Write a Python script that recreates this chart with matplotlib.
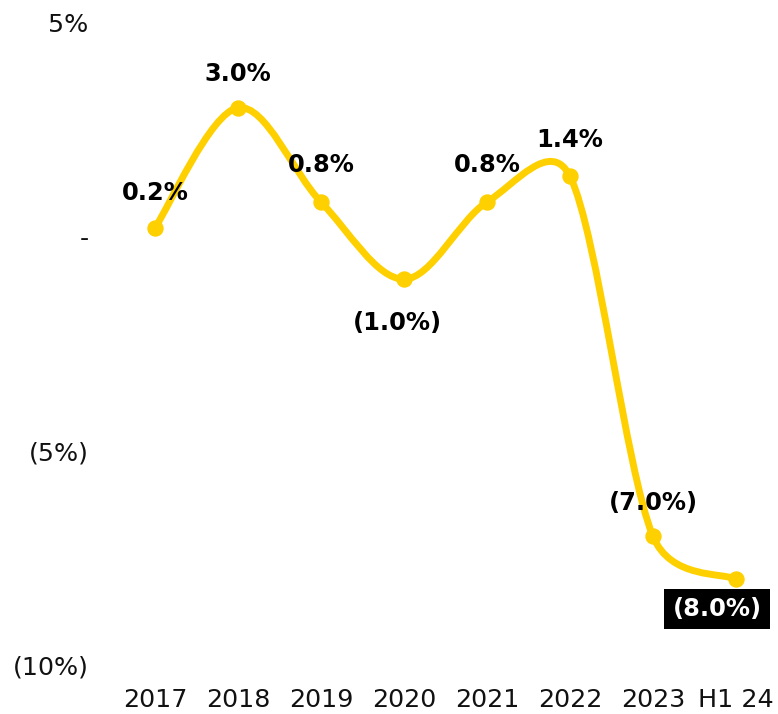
import matplotlib

matplotlib.use("Agg")
import matplotlib.pyplot as plt
import numpy as np
from matplotlib.patches import PathPatch
from matplotlib.path import Path

categories = ["2017", "2018", "2019", "2020", "2021", "2022", "2023", "H1 24"]
values = [0.2, 3.0, 0.8, -1.0, 0.8, 1.4, -7.0, -8.0]
labels = ["0.2%", "3.0%", "0.8%", "(1.0%)", "0.8%", "1.4%", "(7.0%)", "(8.0%)"]
y_ticks = [5, 0, -5, -10]
y_tick_labels = ["5%", "-", "(5%)", "(10%)"]

YELLOW = "#FFD000"
PX = 72 / 100  # points per pixel at dpi 100


def smooth_path(xs, ys, sx, sy):
    # Excel-style smoothed line: Bezier handles = chord/6, clamped to half
    # the segment length (done in pixel space, then mapped back to data)
    pts = np.column_stack([np.asarray(xs) * sx, np.asarray(ys) * sy]).astype(float)
    padded = np.vstack([pts[:1], pts, pts[-1:]])
    verts = [pts[0]]
    codes = [Path.MOVETO]
    for i in range(len(pts) - 1):
        p0, p1, p2, p3 = padded[i], padded[i + 1], padded[i + 2], padded[i + 3]
        seg = np.hypot(*(p2 - p1))
        h1 = (p2 - p0) / 6.0
        h2 = (p3 - p1) / 6.0
        for h in (h1, h2):
            n = np.hypot(*h)
            if n > seg / 2:
                h *= (seg / 2) / n
        verts += [p1 + h1, p2 - h2, p2]
        codes += [Path.CURVE4] * 3
    verts = np.array(verts) / [sx, sy]
    return Path(verts, codes)


fig = plt.figure(figsize=(7.78, 7.14), dpi=100)
ax_w, ax_h = 664, 643
ax = fig.add_axes([113.5 / 778, 49 / 714, ax_w / 778, ax_h / 714])
xlim = (-0.5, len(categories) - 0.5)
ylim = (-10, 5)

x = np.arange(len(categories))
sx = ax_w / (xlim[1] - xlim[0])
sy = ax_h / (ylim[1] - ylim[0])
ax.add_patch(PathPatch(smooth_path(x, values, sx, sy), facecolor="none", edgecolor=YELLOW,
                       linewidth=5, capstyle="round", joinstyle="round", zorder=2))
ax.plot(x, values, linestyle="none", marker="o", markersize=10.8, color=YELLOW, zorder=3)

# label offsets in pixels (dx, dy), positive dy = up
offsets = [(0, 35), (0, 34), (0, 37), (-7, -44), (0, 37), (0, 36), (0, 33), (-19, -30)]
for i, (lab, (dx, dy)) in enumerate(zip(labels, offsets)):
    kw = {}
    color = "black"
    if i == len(labels) - 1:
        color = "white"
        kw["bbox"] = dict(boxstyle="square,pad=0.33", facecolor="black", edgecolor="none")
    ax.annotate(lab, (x[i], values[i]), xytext=(dx * PX, dy * PX), textcoords="offset points",
                ha="center", va="center", fontsize=17.4, fontweight="bold", color=color,
                zorder=4, **kw)

ax.set_xlim(*xlim)
ax.set_ylim(*ylim)
ax.set_xticks(x)
ax.set_xticklabels(categories)
ax.set_yticks(y_ticks)
ax.set_yticklabels(y_tick_labels)
ax.tick_params(axis="x", length=0, pad=23 * PX, labelsize=18.3, labelcolor="#111111")
ax.tick_params(axis="y", length=0, pad=25 * PX, labelsize=18.3, labelcolor="#111111")
for side in ax.spines.values():
    side.set_visible(False)
ax.patch.set_visible(False)

fig.savefig("out.png", dpi=100)
